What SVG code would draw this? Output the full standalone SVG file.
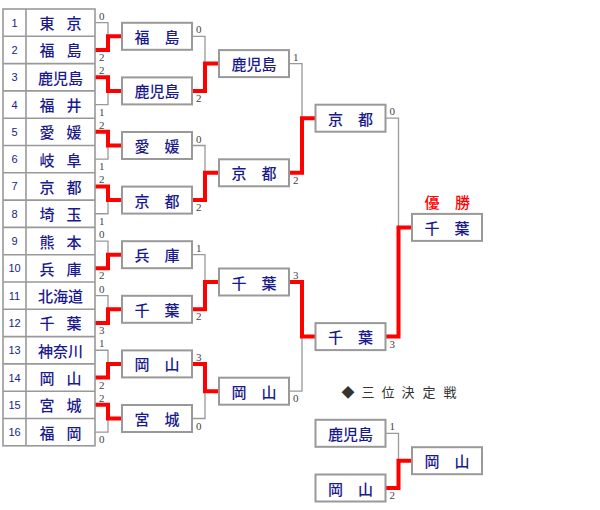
<svg xmlns="http://www.w3.org/2000/svg" width="600" height="510" viewBox="0 0 600 510">
<style>
.bg{fill:#fff}
.tbl{fill:#fff;stroke:#999;stroke-width:1.6}
.tl{stroke:#999;stroke-width:1.6}
.box{fill:#fff;stroke:#999;stroke-width:2}
.ln{fill:none;stroke:#999;stroke-width:1.3}
.win{fill:none;stroke:#f00;stroke-width:4}
.nm{font-family:"Noto Sans CJK JP","Noto Sans CJK SC",sans-serif;font-size:15px;fill:#1a1a8c;text-anchor:middle;dominant-baseline:central;font-weight:500}
.no{font-family:"Liberation Sans",Arial,sans-serif;font-size:11px;fill:#1a1a8c;text-anchor:middle}
.sc{font-family:"Liberation Serif","Times New Roman",serif;font-size:11px;fill:#444}
.ttl{font-family:"Noto Sans CJK JP",sans-serif;font-size:15px;fill:#f00;text-anchor:middle;dominant-baseline:central;font-weight:500}
.third{font-family:"Noto Sans CJK JP",sans-serif;font-size:13px;fill:#333;text-anchor:middle;dominant-baseline:central}
</style>
<rect class="bg" x="0" y="0" width="600" height="510"/>

<g id="connectors">
  <!-- Round 1 losers -->
  <path class="ln" d="M95 22.65H108V36.3"/>
  <path class="ln" d="M95 104.55H108V90.9"/>
  <path class="ln" d="M95 159.15H108V145.5"/>
  <path class="ln" d="M95 213.75H108V200.1"/>
  <path class="ln" d="M95 241.05H108V254.7"/>
  <path class="ln" d="M95 295.65H108V309.3"/>
  <path class="ln" d="M95 350.25H108V363.9"/>
  <path class="ln" d="M95 432.15H108V418.5"/>
  <!-- Round 2 losers -->
  <path class="ln" d="M192 36.3H205V63.6"/>
  <path class="ln" d="M192 145.5H205V172.8"/>
  <path class="ln" d="M192 254.7H205V282"/>
  <path class="ln" d="M192 418.5H205V391.2"/>
  <!-- Round 3 losers -->
  <path class="ln" d="M289 63.6H302V118.2"/>
  <path class="ln" d="M289 391.2H302V336.6"/>
  <!-- Final loser -->
  <path class="ln" d="M385.5 118.2H398.5V227.4"/>
  <!-- Third place loser -->
  <path class="ln" d="M385.5 433.3H398.5V460.7"/>

  <!-- Winners -->
  <path class="win" d="M95 49.95H108V36.3H122"/>
  <path class="win" d="M95 77.25H108V90.9H122"/>
  <path class="win" d="M95 131.85H108V145.5H122"/>
  <path class="win" d="M95 186.45H108V200.1H122"/>
  <path class="win" d="M95 268.35H108V254.7H122"/>
  <path class="win" d="M95 322.95H108V309.3H122"/>
  <path class="win" d="M95 377.55H108V363.9H122"/>
  <path class="win" d="M95 404.85H108V418.5H122"/>
  <path class="win" d="M192 90.9H205V63.6H219"/>
  <path class="win" d="M192 200.1H205V172.8H219"/>
  <path class="win" d="M192 309.3H205V282H219"/>
  <path class="win" d="M192 363.9H205V391.2H219"/>
  <path class="win" d="M289 172.8H302V118.2H315.5"/>
  <path class="win" d="M289 282H302V336.6H315.5"/>
  <path class="win" d="M385.5 336.6H398.5V227.4H412"/>
  <path class="win" d="M385.5 488H398.5V460.7H412"/>

  <!-- Scores -->
  <g class="sc">
    <text x="99" y="19.65">0</text>
    <text x="99" y="60.95">2</text>
    <text x="99" y="74.25">2</text>
    <text x="99" y="115.55">1</text>
    <text x="99" y="128.85">2</text>
    <text x="99" y="170.15">1</text>
    <text x="99" y="183.45">2</text>
    <text x="99" y="224.75">1</text>
    <text x="99" y="238.05">0</text>
    <text x="99" y="279.35">2</text>
    <text x="99" y="292.65">0</text>
    <text x="99" y="333.95">3</text>
    <text x="99" y="347.25">1</text>
    <text x="99" y="388.55">2</text>
    <text x="99" y="401.85">2</text>
    <text x="99" y="443.15">0</text>

    <text x="196" y="33.3">0</text>
    <text x="196" y="101.9">2</text>
    <text x="196" y="142.5">0</text>
    <text x="196" y="211.1">2</text>
    <text x="196" y="251.7">1</text>
    <text x="196" y="320.3">2</text>
    <text x="196" y="360.9">3</text>
    <text x="196" y="429.5">0</text>

    <text x="293" y="60.6">1</text>
    <text x="293" y="183.8">2</text>
    <text x="293" y="279">3</text>
    <text x="293" y="402.2">0</text>

    <text x="389.5" y="115.2">0</text>
    <text x="389.5" y="347.6">3</text>

    <text x="389.5" y="430.3">1</text>
    <text x="389.5" y="499">2</text>
  </g>
</g>

<g id="entry-table">
  <rect class="tbl" x="3" y="9" width="92" height="436.8"/>
  <path class="tl" d="M26 9V445.8 M3 36.3H95 M3 63.6H95 M3 90.9H95 M3 118.2H95 M3 145.5H95 M3 172.8H95 M3 200.1H95 M3 227.4H95 M3 254.7H95 M3 282H95 M3 309.3H95 M3 336.6H95 M3 363.9H95 M3 391.2H95 M3 418.5H95"/>
</g>

<g id="seeds" class="no">
  <text x="14.5" y="26.6">1</text>
  <text x="14.5" y="53.9">2</text>
  <text x="14.5" y="81.2">3</text>
  <text x="14.5" y="108.5">4</text>
  <text x="14.5" y="135.8">5</text>
  <text x="14.5" y="163.1">6</text>
  <text x="14.5" y="190.4">7</text>
  <text x="14.5" y="217.7">8</text>
  <text x="14.5" y="245">9</text>
  <text x="14.5" y="272.3">10</text>
  <text x="14.5" y="299.6">11</text>
  <text x="14.5" y="326.9">12</text>
  <text x="14.5" y="354.2">13</text>
  <text x="14.5" y="381.5">14</text>
  <text x="14.5" y="408.8">15</text>
  <text x="14.5" y="436.1">16</text>
</g>

<g id="teams" class="nm">
  <text x="47 74" y="22.65">東京</text>
  <text x="47 74" y="49.95">福島</text>
  <text x="60.5" y="77.25">鹿児島</text>
  <text x="47 74" y="104.55">福井</text>
  <text x="47 74" y="131.85">愛媛</text>
  <text x="47 74" y="159.15">岐阜</text>
  <text x="47 74" y="186.45">京都</text>
  <text x="47 74" y="213.75">埼玉</text>
  <text x="47 74" y="241.05">熊本</text>
  <text x="47 74" y="268.35">兵庫</text>
  <text x="60.5" y="295.65">北海道</text>
  <text x="47 74" y="322.95">千葉</text>
  <text x="60.5" y="350.25">神奈川</text>
  <text x="47 74" y="377.55">岡山</text>
  <text x="47 74" y="404.85">宮城</text>
  <text x="47 74" y="432.15">福岡</text>
</g>

<g id="r2-fukushima"><rect class="box" x="122" y="22.8" width="70" height="27"/><text class="nm" x="142 172" y="36.3">福島</text></g>
<g id="r2-kagoshima"><rect class="box" x="122" y="77.4" width="70" height="27"/><text class="nm" x="157" y="90.9">鹿児島</text></g>
<g id="r2-ehime"><rect class="box" x="122" y="132" width="70" height="27"/><text class="nm" x="142 172" y="145.5">愛媛</text></g>
<g id="r2-kyoto"><rect class="box" x="122" y="186.6" width="70" height="27"/><text class="nm" x="142 172" y="200.1">京都</text></g>
<g id="r2-hyogo"><rect class="box" x="122" y="241.2" width="70" height="27"/><text class="nm" x="142 172" y="254.7">兵庫</text></g>
<g id="r2-chiba"><rect class="box" x="122" y="295.8" width="70" height="27"/><text class="nm" x="142 172" y="309.3">千葉</text></g>
<g id="r2-okayama"><rect class="box" x="122" y="350.4" width="70" height="27"/><text class="nm" x="142 172" y="363.9">岡山</text></g>
<g id="r2-miyagi"><rect class="box" x="122" y="405" width="70" height="27"/><text class="nm" x="142 172" y="418.5">宮城</text></g>

<g id="r3-kagoshima"><rect class="box" x="219" y="50.1" width="70" height="27"/><text class="nm" x="254" y="63.6">鹿児島</text></g>
<g id="r3-kyoto"><rect class="box" x="219" y="159.3" width="70" height="27"/><text class="nm" x="239 269" y="172.8">京都</text></g>
<g id="r3-chiba"><rect class="box" x="219" y="268.5" width="70" height="27"/><text class="nm" x="239 269" y="282">千葉</text></g>
<g id="r3-okayama"><rect class="box" x="219" y="377.7" width="70" height="27"/><text class="nm" x="239 269" y="391.2">岡山</text></g>

<g id="sf-kyoto"><rect class="box" x="315.5" y="104.7" width="70" height="27"/><text class="nm" x="335.5 365.5" y="118.2">京都</text></g>
<g id="sf-chiba"><rect class="box" x="315.5" y="323.1" width="70" height="27"/><text class="nm" x="335.5 365.5" y="336.6">千葉</text></g>

<g id="champion">
  <text class="ttl" x="432 462.5" y="201">優勝</text>
  <rect class="box" x="412" y="213.9" width="70" height="27"/><text class="nm" x="432 462" y="227.4">千葉</text>
</g>

<g id="third-title"><text class="third" x="348 368 388 408 429 450" y="391">◆三位決定戦</text></g>
<g id="third-kagoshima"><rect class="box" x="315.5" y="419.8" width="70" height="27"/><text class="nm" x="350.5" y="433.3">鹿児島</text></g>
<g id="third-okayama"><rect class="box" x="315.5" y="474.5" width="70" height="27"/><text class="nm" x="335.5 365.5" y="488">岡山</text></g>
<g id="third-winner"><rect class="box" x="412" y="447.2" width="70" height="27"/><text class="nm" x="432 462" y="460.7">岡山</text></g>
</svg>
